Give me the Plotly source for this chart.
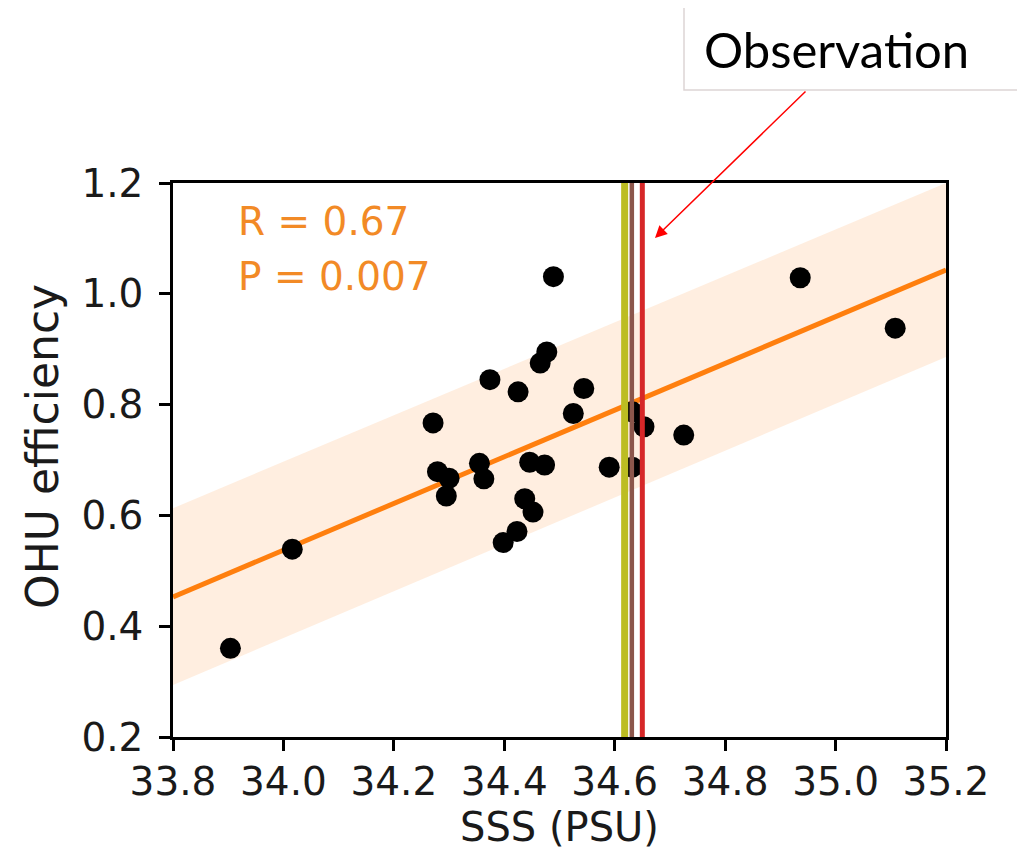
import plotly.graph_objects as go

# Scatter data (SSS vs OHU efficiency)
sss = [33.904, 34.016, 34.271, 34.279, 34.300, 34.295, 34.355, 34.363, 34.398, 34.423,
       34.437, 34.452, 34.446, 34.473, 34.525, 34.590, 34.632, 34.632, 34.653, 34.725,
       34.374, 34.425, 34.544, 34.489, 34.477, 34.465, 34.936, 35.108]
ohu = [0.360, 0.539, 0.767, 0.679, 0.667, 0.635, 0.694, 0.666, 0.551, 0.571,
       0.630, 0.606, 0.696, 0.691, 0.784, 0.687, 0.687, 0.787, 0.760, 0.745,
       0.845, 0.823, 0.829, 1.031, 0.895, 0.875, 1.029, 0.938]

# Regression line and band
fit_x = [33.8, 35.2]
fit_y = [0.453, 1.043]
band_upper = [0.613, 1.200]
band_lower = [0.294, 0.886]

# Observation lines
obs_x = [34.618, 34.631, 34.650]
obs_colors = ["#bcbd22", "#8c564b", "#d62728"]
obs_widths = [7, 4.5, 5]

x_ticks = [33.8, 34.0, 34.2, 34.4, 34.6, 34.8, 35.0, 35.2]
y_ticks = [0.2, 0.4, 0.6, 0.8, 1.0, 1.2]

FONT = "DejaVu Sans"
ORANGE = "#ff7f0e"
TXT = "#1a1a1a"

# plot area in page pixels: x 173..946, y 183..737 (page has 8px body offset)
L, T, PW, PH = 165, 175, 773, 554


def px(xp):
    return (xp - 173) / PW


def py(yp):
    return (737 - yp) / PH


fig = go.Figure()
fig.add_trace(go.Scatter(x=fit_x + fit_x[::-1], y=band_upper + band_lower[::-1],
                         fill="toself", fillcolor="rgba(255,127,14,0.13)",
                         line=dict(width=0), mode="lines", hoverinfo="skip", showlegend=False))
fig.add_trace(go.Scatter(x=fit_x, y=fit_y, mode="lines", line=dict(color=ORANGE, width=5),
                         showlegend=False))
fig.add_trace(go.Scatter(x=sss, y=ohu, mode="markers",
                         marker=dict(color="black", size=21, line=dict(width=0)),
                         showlegend=False))
for xv, c, w in zip(obs_x, obs_colors, obs_widths):
    fig.add_trace(go.Scatter(x=[xv, xv], y=[0.2, 1.2], mode="lines",
                             line=dict(color=c, width=w), showlegend=False))

fig.add_annotation(x=px(236), y=py(221), xref="paper", yref="paper", text="R = 0.67",
                   showarrow=False, xanchor="left", yanchor="middle",
                   font=dict(family=FONT, size=39, color="#f28a26"))
fig.add_annotation(x=px(236), y=py(276), xref="paper", yref="paper", text="P = 0.007",
                   showarrow=False, xanchor="left", yanchor="middle",
                   font=dict(family=FONT, size=39, color="#f28a26"))

# y axis title as rotated annotation
fig.add_annotation(x=px(42), y=py(447), xref="paper", yref="paper", text="OHU efficiency",
                   showarrow=False, xanchor="center", yanchor="middle", textangle=-90,
                   font=dict(family=FONT, size=44, color=TXT))

# Observation label box
fig.add_shape(type="rect", xref="paper", yref="paper",
              x0=px(684), x1=px(1023), y0=py(90), y1=py(7),
              line=dict(color="#ddd5d5", width=1.5), fillcolor="white")
fig.add_annotation(x=px(702), y=py(49), xref="paper", yref="paper",
                   text="Observation", showarrow=False, xanchor="left", yanchor="middle",
                   font=dict(family="Lato", size=49, color="black"))
fig.add_annotation(x=px(655), y=py(238), xref="paper", yref="paper",
                   text="", showarrow=True, ax=152, ay=-148, arrowcolor="#ff0000",
                   arrowwidth=1.5, arrowhead=2, arrowsize=1.6, standoff=0)

fig.update_xaxes(range=[33.8, 35.2], tickvals=x_ticks, ticktext=[f"{v:.1f}" for v in x_ticks],
                 showgrid=False, zeroline=False, showline=True, mirror=True,
                 linecolor="black", linewidth=2.5, ticks="outside", ticklen=11, tickwidth=2.5,
                 tickcolor="black", tickfont=dict(family=FONT, size=39, color=TXT),
                 ticklabelstandoff=-3,
                 title=dict(text="SSS (PSU)", font=dict(family=FONT, size=40, color=TXT),
                            standoff=8))
fig.update_yaxes(range=[0.2, 1.2], tickvals=y_ticks, ticktext=[f"{v:.1f}" for v in y_ticks],
                 showgrid=False, zeroline=False, showline=True, mirror=True,
                 linecolor="black", linewidth=2.5, ticks="outside", ticklen=11, tickwidth=2.5,
                 tickcolor="black", tickfont=dict(family=FONT, size=39, color=TXT),
                 ticklabelstandoff=8)
fig.update_layout(width=1017, height=852, margin=dict(l=L, r=79, t=T, b=123),
                  paper_bgcolor="white", plot_bgcolor="white", showlegend=False)

fig.write_html("out.html")
